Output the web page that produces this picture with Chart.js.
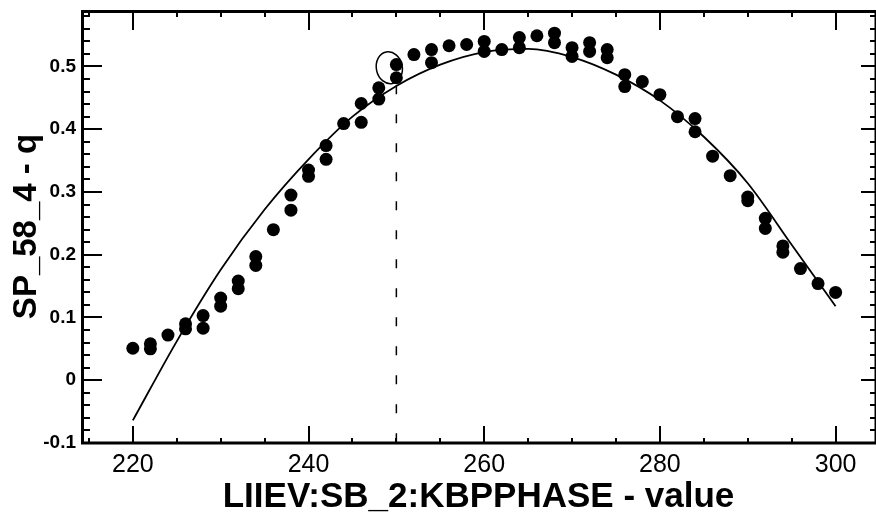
<!DOCTYPE html>
<html>
<head>
<meta charset="utf-8">
<script src="https://cdn.jsdelivr.net/npm/chart.js@4"></script>
<style>
  html, body { margin: 0; padding: 0; background: #fff; }
</style>
</head>
<body>
<canvas id="scan" width="876" height="515"></canvas>
<script>
// measured points (phase setting, q)
var phaseValues = [220, 222, 222, 224, 226, 226, 228, 228, 230, 230, 232, 232, 234, 234, 236, 238, 238,
                   240, 240, 242, 242, 244, 246, 246, 248, 248, 250, 250, 252, 254, 254, 256, 258, 260, 260,
                   262, 264, 264, 266, 268, 268, 270, 270, 272, 272, 274, 274, 276, 276, 278, 280, 282,
                   284, 284, 286, 288, 290, 290, 292, 292, 294, 294, 296, 298, 300];
var qValues = [0.051, 0.050, 0.058, 0.072, 0.082, 0.090, 0.103, 0.083, 0.131, 0.118, 0.158, 0.146, 0.197, 0.183, 0.240, 0.295, 0.271,
               0.335, 0.325, 0.374, 0.352, 0.409, 0.441, 0.411, 0.466, 0.448, 0.503, 0.482, 0.519, 0.527, 0.506, 0.533, 0.535, 0.540, 0.524,
               0.527, 0.546, 0.530, 0.549, 0.553, 0.538, 0.530, 0.516, 0.538, 0.524, 0.527, 0.514, 0.487, 0.468, 0.476, 0.455, 0.420,
               0.417, 0.396, 0.357, 0.326, 0.292, 0.286, 0.258, 0.242, 0.214, 0.204, 0.178, 0.154, 0.140];

// fitted curve
var fitPhase = [220, 225, 230, 235, 240, 245, 250, 255, 260, 265, 270, 275, 280, 285, 290, 295, 300];
var fitQ = [-0.064, 0.062, 0.176, 0.272, 0.352, 0.420, 0.469, 0.503, 0.523, 0.528, 0.515, 0.487, 0.446, 0.388, 0.314, 0.216, 0.118];

// dashed marker at the chosen setting
var markerPhase = [250, 250];
var markerQ = [0.47, -0.1];
var circledPoint = { x: 249.2, y: 0.498 };

var xTickValues = [220, 240, 260, 280, 300];
var yTickValues = [-0.1, 0, 0.1, 0.2, 0.3, 0.4, 0.5];

function pairs(xs, ys) {
  return xs.map(function (x, i) { return { x: x, y: ys[i] }; });
}

var fam = '"Liberation Sans", Arial, sans-serif';

// frame with inward ticks, and the hand-drawn circle
var frameTicks = {
  id: 'frameTicks',
  afterDraw: function (chart) {
    var ctx = chart.ctx, a = chart.chartArea;
    var xs = chart.scales.x, ys = chart.scales.y;
    ctx.save();
    ctx.strokeStyle = '#000';
    ctx.lineWidth = 3;
    ctx.beginPath();
    ctx.moveTo(a.left + 1.5, a.top + 1.5);
    ctx.lineTo(a.right, a.top + 1.5);
    ctx.lineTo(a.right, a.bottom);
    ctx.lineTo(a.left + 1.5, a.bottom);
    ctx.closePath();
    ctx.stroke();

    ctx.lineWidth = 2;
    ctx.beginPath();
    for (var v = 215; v <= 300; v += 5) {
      var px = Math.round(xs.getPixelForValue(v));
      var major = v % 20 === 0;
      ctx.moveTo(px, a.bottom);
      ctx.lineTo(px, a.bottom - (major ? 17 : 5));
      ctx.moveTo(px, a.top + 2);
      ctx.lineTo(px, a.top + 2 + (major ? 18 : 5));
    }
    for (var k = -5; k <= 29; k++) {
      var py = Math.round(ys.getPixelForValue(k * 0.02));
      var maj = k % 5 === 0;
      ctx.moveTo(a.left + 2, py);
      ctx.lineTo(a.left + 2 + (maj ? 19 : 7), py);
      ctx.moveTo(a.right - 1, py);
      ctx.lineTo(a.right - 1 - (maj ? 14 : 5), py);
    }
    ctx.stroke();

    ctx.lineWidth = 1.5;
    ctx.beginPath();
    ctx.ellipse(xs.getPixelForValue(circledPoint.x), ys.getPixelForValue(circledPoint.y), 13, 16, -0.2, 0, Math.PI * 2);
    ctx.stroke();
    ctx.restore();
  }
};

new Chart(document.getElementById('scan'), {
  type: 'scatter',
  data: {
    datasets: [{
      label: 'q',
      data: pairs(phaseValues, qValues),
      showLine: false,
      pointRadius: 6.5,
      pointBackgroundColor: '#000',
      pointBorderWidth: 0
    }, {
      label: 'fit',
      data: pairs(fitPhase, fitQ),
      showLine: true,
      pointRadius: 0,
      borderColor: '#000',
      borderWidth: 1.8,
      cubicInterpolationMode: 'monotone'
    }, {
      label: 'marker',
      data: pairs(markerPhase, markerQ),
      showLine: true,
      pointRadius: 0,
      borderColor: '#000',
      borderWidth: 1.5,
      borderDash: [9, 20]
    }]
  },
  options: {
    responsive: false,
    animation: false,
    devicePixelRatio: 1,
    layout: { autoPadding: false, padding: { top: 10, right: 0, left: 0, bottom: 0 } },
    plugins: { legend: { display: false }, tooltip: { enabled: false } },
    scales: {
      x: {
        type: 'linear',
        min: 214.1,
        max: 304.6,
        afterFit: function (s) { s.height = 72; s.paddingLeft = 0; s.paddingRight = 0; },
        afterBuildTicks: function (s) { s.ticks = xTickValues.map(function (v) { return { value: v }; }); },
        grid: { display: false, drawTicks: false },
        border: { display: false },
        ticks: { color: '#000', font: { family: fam, size: 25 }, padding: 7, maxRotation: 0, autoSkip: false },
        title: {
          display: true,
          text: 'LIIEV:SB_2:KBPPHASE - value',
          color: '#000',
          font: { family: fam, size: 35, weight: 'bold', lineHeight: 1 },
          padding: 0
        }
      },
      y: {
        min: -0.1,
        max: 0.59,
        afterFit: function (s) { s.width = 81; s.paddingTop = 0; s.paddingBottom = 0; },
        afterBuildTicks: function (s) { s.ticks = yTickValues.map(function (v) { return { value: v }; }); },
        grid: { display: false, drawTicks: false },
        border: { display: false },
        ticks: {
          color: '#000',
          font: { family: fam, size: 19, weight: 'bold' },
          padding: 5,
          callback: function (v) { return v === 0 ? '0' : v.toFixed(1); }
        },
        title: {
          display: true,
          text: 'SP_58_4 - q',
          color: '#000',
          font: { family: fam, size: 33, weight: 'bold', lineHeight: 1 },
          padding: { top: 10, bottom: 0 }
        }
      }
    }
  },
  plugins: [frameTicks]
});
</script>
</body>
</html>
